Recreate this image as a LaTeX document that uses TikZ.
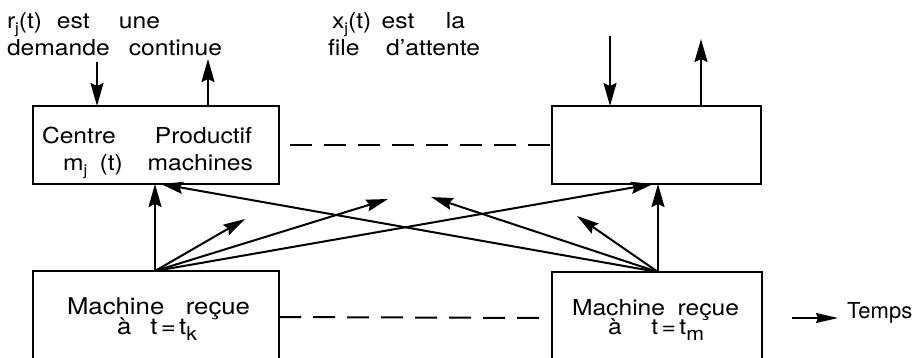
\documentclass[tikz,border=0pt]{standalone}
\usepackage{graphicx}
\usepackage{fontspec}
\setmainfont{TeX Gyre Heros}
\usetikzlibrary{arrows.meta}
\newcommand{\sub}[1]{\raisebox{-5pt}{\fontsize{15}{15}\selectfont #1}}
\newcommand{\sbig}[1]{\raisebox{-6pt}{\fontsize{19}{19}\selectfont #1}}
% a line of text stretched horizontally (x 1.12) to a given total width
\newcommand{\fit}[2]{\scalebox{1.12}[1]{\makebox[\dimexpr#1*100/112\relax][s]{#2}}}
% two lines: skip, kern of line 1, line 1, kern of line 2, line 2
\newcommand{\two}[5]{\vbox{\baselineskip=#1\lineskiplimit=-100pt\lineskip=0pt
  \hbox{\kern#2#3}\hbox{\kern#4#5}}}
\begin{document}
\begin{tikzpicture}[x=1pt,y=-1pt,
  box/.style={draw, line width=2pt, inner sep=0pt, outer sep=0pt, anchor=north west},
  lbl/.style={anchor=base west, inner sep=0pt, outer sep=0pt, font=\fontsize{22}{26}\selectfont},
  lblb/.style={lbl, font=\fontsize{23}{27}\selectfont},
  arr/.style={line width=2pt, -{Stealth[length=22pt,width=12pt,inset=3pt]}},
  varr/.style={line width=2pt, -{Stealth[length=23pt,width=13pt,inset=3pt]}},
  dsh/.style={line width=2pt, dash pattern=on 22pt off 12pt}]

% boxes
\node[box, minimum width=246pt, minimum height=78pt] (TL) at (33,106) {};
\node[box, minimum width=209pt, minimum height=78pt] (TR) at (552,106) {};
\node[box, minimum width=246pt, minimum height=130pt] (BL) at (33,271) {};
\node[box, minimum width=210pt, minimum height=130pt] (BR) at (552,272) {};

% labels above
\node[lbl] (rlab) at (7,55) {\two{27pt}{0pt}{\fit{153pt}{r\sub{j}(t)\hfill est\hfill\hfill une}}{0pt}{\fit{215pt}{demande continue}}};
\node[lbl] (xlab) at (328,55) {\two{27pt}{4pt}{\fit{133pt}{x\sub{j}(t)\hfill est\hfill\hfill\hfill la}}{0pt}{\fit{152pt}{file d'attente}}};

% box texts
\node[lbl] (ctext) at (42,170) {\two{27pt}{0pt}{\fit{210pt}{Centre Productif}}{21pt}{\fit{190pt}{m\sub{j}\hfill(t)\hfill\hfill machines}}};
\node[lblb] (ktext) at (67,334) {\two{20pt}{0pt}{\fit{183pt}{Machine reçue}}{50pt}{\fit{80pt}{à\hfill t\hspace{3pt}=\hspace{3pt}t\sbig{k}}}};
\node[lbl] (mtext) at (572,334) {\two{19pt}{0pt}{\fit{167pt}{Machine reçue}}{36pt}{\fit{96pt}{à\hfill t\hspace{3pt}=\hspace{3pt}t\sbig{m}}}};
\node[lbl, font=\fontsize{22}{26}\selectfont] (T) at (847,318) {Temps};

% input/output arrows
\coordinate (iL) at (97,62);
\coordinate (oL) at (208,59);
\coordinate (iR) at (610,36);
\coordinate (oR) at (701,39);
\draw[varr] (iL) -- (iL |- TL.north);
\draw[varr] (oL |- TL.north) -- (oL);
\draw[varr] (iR) -- (iR |- TR.north);
\draw[varr] (oR |- TR.north) -- (oR);

% dashed links
\draw[dsh] ([xshift=11pt]TL.east) -- (TR.west);
\draw[dsh] ([yshift=-46pt]BL.north east) -- ([yshift=-46pt]BR.north west);

% fan of arrows
\coordinate (sL) at (155,271);
\coordinate (sR) at (658,272);
\coordinate (p1) at (245,219);
\coordinate (p2) at (388,199);
\coordinate (p3) at (653,184);
\coordinate (q1) at (577,216);
\coordinate (q2) at (431,197);
\coordinate (q3) at (161,184);
\draw[varr] (sL) -- (sL |- TL.south);
\draw[varr] (sR) -- (sR |- TR.south);
\draw[arr] (sL) -- (p1);
\draw[arr] (sL) -- (p2);
\draw[arr] (sL) -- (p3);
\draw[arr] (sR) -- (q1);
\draw[arr] (sR) -- (q2);
\draw[arr] (sR) -- (q3);

% time arrow
\coordinate (ta) at (792,318);
\draw[line width=2pt, -{Stealth[length=22pt,width=10pt,inset=2pt]}] (ta) -- ([xshift=-9pt]T.west |- ta);

\pgfresetboundingbox
\useasboundingbox (0,0) rectangle (915,357);
\end{tikzpicture}
\end{document}
